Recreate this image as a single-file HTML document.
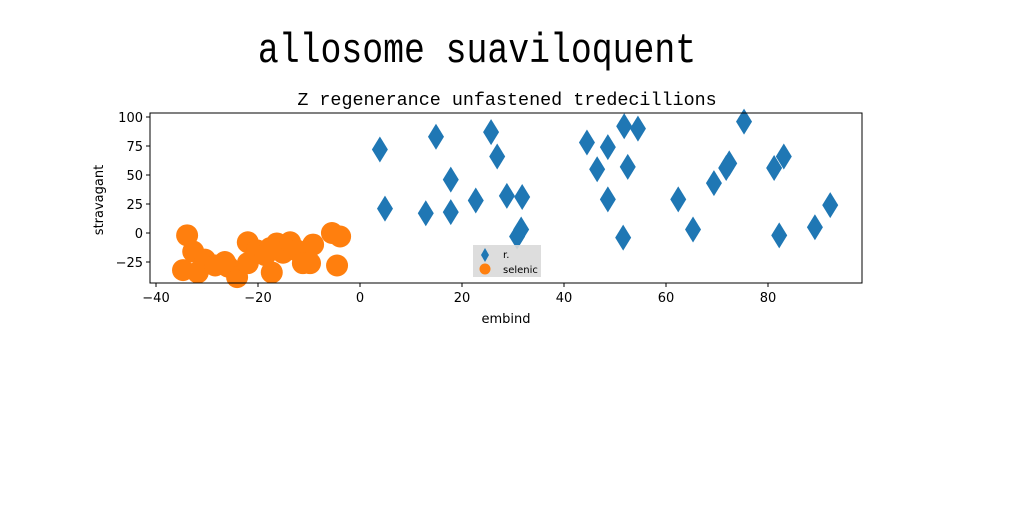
<!DOCTYPE html>
<html><head><meta charset="utf-8"><style>
body{margin:0;background:#fff;width:1024px;height:512px;overflow:hidden}
svg text{font-family:"DejaVu Sans","Liberation Sans",sans-serif}
</style></head><body>
<svg id="chart" width="1024" height="512" xmlns="http://www.w3.org/2000/svg">
<text x="0" y="59" text-anchor="middle" font-size="40" style="font-family:'Liberation Mono','DejaVu Sans Mono',monospace" transform="translate(477,0) scale(0.87,1.05)">allosome suaviloquent</text>
<text x="507" y="105" text-anchor="middle" font-size="18.4" style="font-family:'Liberation Mono',monospace">Z regenerance unfastened tredecillions</text>
<g id="marks"></g>
<rect x="150" y="113" width="712" height="170" fill="none" stroke="#000" stroke-width="1"/>
<g id="axes"></g>
<text x="506" y="323" text-anchor="middle" font-size="13">embind</text>
<text x="103" y="200" text-anchor="middle" font-size="13" transform="rotate(-90 103 200)">stravagant</text>
<g>
<rect x="473" y="245" width="68" height="32" fill="#d9d9d9" opacity="0.9"/>
<path d="M485,248 L489,255 L485,262 L481,255Z" fill="#1f77b4"/>
<text x="503" y="258" font-size="10">r.</text>
<circle cx="485" cy="269" r="5.5" fill="#ff7f0e"/>
<text x="503" y="273" font-size="10">selenic</text>
</g>
</svg>
<script>
const blueX=[3.9,4.9,14.9,12.9,17.8,17.8,25.7,26.9,22.7,28.8,31.8,30.8,31.6,44.5,46.5,48.6,48.6,51.8,52.5,51.6,54.5,62.4,65.3,69.4,71.8,72.4,75.3,81.2,83.1,82.2,89.2,92.2];
const blueY=[72,21,83,17,46,18,87,66,28,32,31,-3,3,78,55,74,29,92,57,-4,90,29,3,43,56,60,96,56,66,-2,5,24];
const orangeX=[-33.9,-34.7,-31.8,-32.7,-30.4,-28.4,-25.9,-24.1,-22,-22,-20.2,-18.6,-17.3,-16.3,-15.1,-13.7,-12.4,-11.2,-9.8,-9.2,-5.5,-3.9,-4.5,-17.6,-26.5];
const orangeY=[-2,-32,-34,-16,-23,-28,-29,-38,-8,-26,-15,-19,-34,-9,-17,-8,-15,-26,-26,-10,0,-3,-28,-13,-25];
const xTicks=[-40,-20,0,20,40,60,80];
const yTicks=[-25,0,25,50,75,100];
const NS="http://www.w3.org/2000/svg";
const sx=v=>360+v*5.1, sy=v=>233-v*1.16;
const marks=document.getElementById('marks'), axes=document.getElementById('axes');
function mk(t,a,p){const e=document.createElementNS(NS,t);for(const k in a)e.setAttribute(k,a[k]);p.appendChild(e);return e;}
orangeX.forEach((x,i)=>{const c=mk('circle',{cx:sx(x),cy:sy(orangeY[i]),r:11,fill:'#ff7f0e'},marks);

});
blueX.forEach((x,i)=>{const X=sx(x),Y=sy(blueY[i]);const p=mk('path',{d:`M${X},${Y-13} L${X+8},${Y} L${X},${Y+13} L${X-8},${Y}Z`,fill:'#1f77b4'},marks);

});
xTicks.forEach(v=>{const g=mk('g',{},axes);


mk('line',{x1:sx(v),x2:sx(v),y1:283,y2:287,stroke:'#000'},g);
const t=mk('text',{x:sx(v),y:302,'text-anchor':'middle','font-size':13},g);t.textContent=v<0?'\u2212'+(-v):v;});
yTicks.forEach(v=>{const g=mk('g',{},axes);


mk('line',{x1:146,x2:150,y1:sy(v),y2:sy(v),stroke:'#000'},g);
const t=mk('text',{x:143,y:sy(v)+5,'text-anchor':'end','font-size':13},g);t.textContent=v<0?'\u2212'+(-v):v;});
</script>
</body></html>
